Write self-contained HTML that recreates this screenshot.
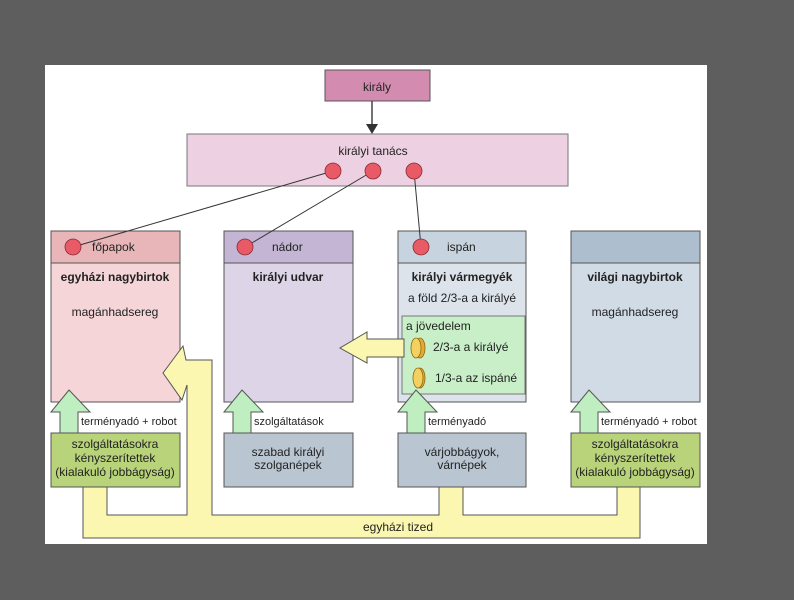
<!DOCTYPE html>
<html><head><meta charset="utf-8"><style>
body{margin:0;width:794px;height:595px;background:#5e5e5e;overflow:hidden}
svg text{font-family:"Liberation Sans",sans-serif;fill:#222}
</style></head><body>
<svg width="794" height="595" xmlns="http://www.w3.org/2000/svg">
<rect x="45" y="65" width="662" height="479" fill="#fff"/>
<rect x="325" y="70" width="105" height="31" fill="#d38cb0" stroke="#555" stroke-width="1"/>
<text x="377" y="91" font-size="12" text-anchor="middle">király</text>
<line x1="372" y1="101" x2="372" y2="126" stroke="#444" stroke-width="1.5"/>
<polygon points="366,124 378,124 372,134" fill="#333"/>
<rect x="187" y="134" width="381" height="52" fill="#edd0e1" stroke="#777" stroke-width="1"/>
<text x="373" y="155" font-size="12" text-anchor="middle">királyi tanács</text>
<!-- columns -->
<rect x="51" y="231" width="129" height="171" fill="#f5d5d7" stroke="#555"/>
<rect x="51" y="231" width="129" height="32" fill="#e8b6b9" stroke="#555"/>
<rect x="224" y="231" width="129" height="171" fill="#ddd5e7" stroke="#555"/>
<rect x="224" y="231" width="129" height="32" fill="#c3b5d3" stroke="#555"/>
<rect x="398" y="231" width="128" height="171" fill="#dce3eb" stroke="#555"/>
<rect x="398" y="231" width="128" height="32" fill="#c7d3de" stroke="#555"/>
<rect x="571" y="231" width="129" height="171" fill="#d0dbe5" stroke="#555"/>
<rect x="571" y="231" width="129" height="32" fill="#adbfcf" stroke="#555"/>
<line x1="333" y1="171" x2="73" y2="247" stroke="#333" stroke-width="1"/>
<line x1="373" y1="171" x2="245" y2="247" stroke="#333" stroke-width="1"/>
<line x1="414" y1="171" x2="421" y2="247" stroke="#333" stroke-width="1"/>
<g fill="#e85a66" stroke="#8a2a33" stroke-width="0.8">
<circle cx="333" cy="171" r="8"/><circle cx="373" cy="171" r="8"/><circle cx="414" cy="171" r="8"/>
<circle cx="73" cy="247" r="8"/><circle cx="245" cy="247" r="8"/><circle cx="421" cy="247" r="8"/>
</g>
<text x="92" y="251" font-size="12">főpapok</text>
<text x="272" y="251" font-size="12">nádor</text>
<text x="447" y="251" font-size="12">ispán</text>
<g font-size="12" font-weight="bold" text-anchor="middle">
<text x="115" y="281">egyházi nagybirtok</text>
<text x="288" y="281">királyi udvar</text>
<text x="462" y="281">királyi vármegyék</text>
<text x="635" y="281">világi nagybirtok</text>
</g>
<g font-size="12" text-anchor="middle">
<text x="115" y="316">magánhadsereg</text>
<text x="462" y="302">a föld 2/3-a a királyé</text>
<text x="635" y="316">magánhadsereg</text>
</g>
<rect x="402" y="316" width="123" height="78" fill="#c9efc9" stroke="#777"/>
<text x="406" y="330" font-size="12">a jövedelem</text>
<text x="433" y="351" font-size="12">2/3-a a királyé</text>
<text x="435" y="382" font-size="12">1/3-a az ispáné</text>
<g stroke="#8a6a10" stroke-width="0.8">
<ellipse cx="420" cy="348" rx="5" ry="10" fill="#e8a838"/><ellipse cx="416" cy="348" rx="5" ry="10" fill="#f3d060"/>
<ellipse cx="420" cy="378" rx="5" ry="10" fill="#e8a838"/><ellipse cx="418" cy="378" rx="5" ry="10" fill="#f3d060"/>
</g>
<!-- yellow arrows -->
<polygon points="404,339 367,339 367,332 340,348 367,363 367,357 404,357" fill="#fbf7b0" stroke="#555"/>
<polygon points="83,487 107,487 107,515 187,515 187,385 182,400 163,373 183,346 186,360 212,360 212,515 439,515 439,487 463,487 463,515 617,515 617,487 640,487 640,538 83,538" fill="#fbf7b0" stroke="#555"/>
<text x="398" y="531" font-size="12" text-anchor="middle">egyházi tized</text>
<!-- bottom boxes -->
<rect x="51" y="433" width="129" height="54" fill="#b9d37b" stroke="#555"/>
<rect x="224" y="433" width="129" height="54" fill="#b9c5d1" stroke="#555"/>
<rect x="398" y="433" width="128" height="54" fill="#b9c5d1" stroke="#555"/>
<rect x="571" y="433" width="129" height="54" fill="#b9d37b" stroke="#555"/>
<g font-size="12" text-anchor="middle">
<text x="115" y="448">szolgáltatásokra</text><text x="115" y="462">kényszerítettek</text><text x="115" y="476">(kialakuló jobbágyság)</text>
<text x="635" y="448">szolgáltatásokra</text><text x="635" y="462">kényszerítettek</text><text x="635" y="476">(kialakuló jobbágyság)</text>
<text x="288" y="456">szabad királyi</text><text x="288" y="469">szolganépek</text>
<text x="462" y="456">várjobbágyok,</text><text x="462" y="469">várnépek</text>
</g>
<!-- green arrows -->
<g fill="#bfeec0" stroke="#555">
<polygon points="60,433 78,433 78,412 90,412 69,390 51,412 60,412"/>
<polygon points="233,433 251,433 251,412 263,412 242,390 224,412 233,412"/>
<polygon points="407,433 425,433 425,412 437,412 416,390 398,412 407,412"/>
<polygon points="580,433 598,433 598,412 610,412 589,390 571,412 580,412"/>
</g>
<g font-size="11">
<text x="81" y="425">terményadó + robot</text>
<text x="254" y="425">szolgáltatások</text>
<text x="428" y="425">terményadó</text>
<text x="601" y="425">terményadó + robot</text>
</g>
</svg>
</body></html>
